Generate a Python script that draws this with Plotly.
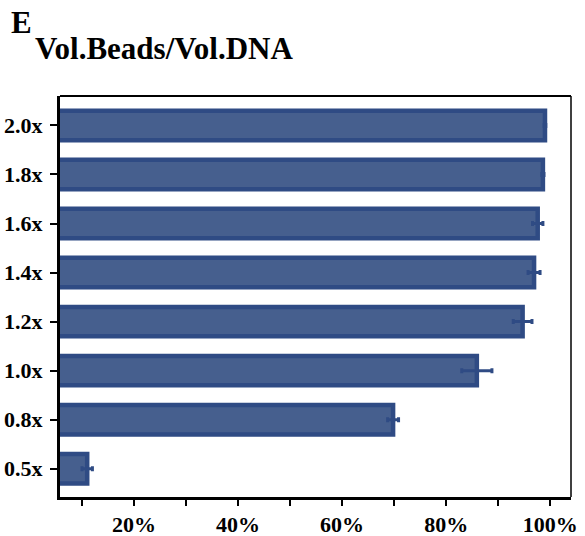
import plotly.graph_objects as go

# Bead-to-DNA volume ratios and recovery (%), with error
ratios = ["0.5x", "0.8x", "1.0x", "1.2x", "1.4x", "1.6x", "1.8x", "2.0x"]
recovery = [11.0, 69.8, 85.9, 94.7, 96.9, 97.6, 98.6, 99.0]
recovery_err = [1.0, 1.05, 2.9, 1.8, 1.15, 1.0, 0.2, 0.15]

tick_vals = [10, 20, 30, 40, 50, 60, 70, 80, 90, 100]
tick_text = ["", "20%", "", "40%", "", "60%", "", "80%", "", "100%"]

FILL = "#465f8e"
EDGE = "#2f4b84"
FONT = "Liberation Serif, Times New Roman, serif"

W, H = 585, 536
L, R, T, B = 60, 14, 95.5, 39
PW, PH = W - L - R, H - T - B

fig = go.Figure()
fig.add_trace(go.Bar(
    y=ratios,
    x=recovery,
    orientation="h",
    width=0.6,
    marker=dict(color=FILL, line=dict(color=EDGE, width=4.5)),
    error_x=dict(type="data", array=recovery_err, visible=True,
                 color=EDGE, thickness=3, width=2.5),
    showlegend=False,
))


def px_x(x):
    return (x - L) / PW


def px_y(y):
    return 1 - (y - T) / PH


fig.update_layout(
    width=W, height=H,
    margin=dict(l=L, r=R, t=T, b=B),
    plot_bgcolor="white",
    paper_bgcolor="white",
    font=dict(family=FONT, color="black"),
    xaxis=dict(
        range=[5.77, 104.0],
        automargin=False,
        tickvals=tick_vals,
        ticktext=tick_text,
        ticks="outside", ticklen=6, tickwidth=2, tickcolor="black",
        showline=True, linecolor="black", linewidth=3,
        showgrid=False, zeroline=False,
        tickfont=dict(family=FONT, size=22, color="black", weight="bold"),
    ),
    yaxis=dict(
        range=[-0.576, 7.60],
        automargin=False,
        categoryorder="array", categoryarray=ratios,
        ticks="outside", ticklen=7, tickwidth=2, tickcolor="black",
        showline=True, linecolor="black", linewidth=3,
        showgrid=False, zeroline=False,
        ticklabelstandoff=3,
        tickfont=dict(family=FONT, size=22, color="black", weight="bold"),
    ),
    shapes=[
        dict(type="line", xref="paper", yref="paper", x0=0, x1=1, y0=1, y1=1,
             line=dict(color="black", width=2)),
        dict(type="line", xref="paper", yref="paper", x0=1, x1=1, y0=0, y1=1,
             line=dict(color="black", width=1.5)),
    ],
    annotations=[
        dict(text="<b>E</b>", xref="paper", yref="paper",
             x=px_x(9), y=px_y(22), xanchor="left", yanchor="middle",
             showarrow=False, font=dict(family=FONT, size=31, color="black")),
        dict(text="<b>Vol.Beads/Vol.DNA</b>", xref="paper", yref="paper",
             x=px_x(33), y=px_y(48), xanchor="left", yanchor="middle",
             showarrow=False, font=dict(family=FONT, size=31, color="black")),
    ],
)

fig.write_html("out.html")
